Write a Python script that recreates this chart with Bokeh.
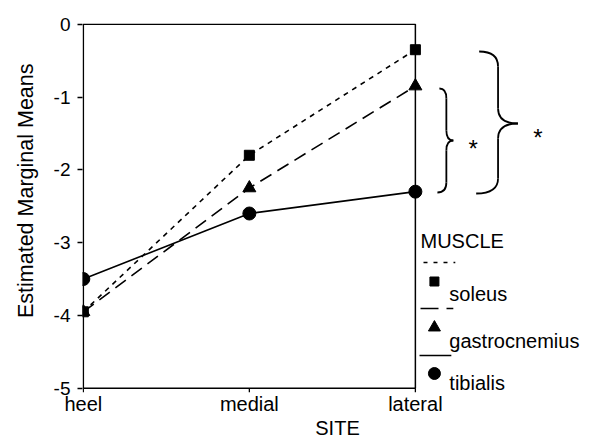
from bokeh.plotting import figure
from bokeh.models import Range1d, FixedTicker, Title
from bokeh.core.properties import value
from bokeh.embed import file_html
from bokeh.resources import INLINE

# ---------------- data ----------------
sites = ["heel", "medial", "lateral"]
site_pos = [0, 1, 2]
soleus = [-3.95, -1.8, -0.35]
gastrocnemius = [-3.95, -2.25, -0.85]
tibialis = [-3.5, -2.6, -2.3]
y_ticks = [0, -1, -2, -3, -4, -5]
legend_title = "MUSCLE"
legend_names = ["soleus", "gastrocnemius", "tibialis"]
y_title = "Estimated Marginal Means"
x_title = "SITE"

FONT = "Liberation Sans"

# ---------------- layout ----------------
W, H = 592, 444
FL, FT = 79, 23            # frame left / top inside canvas
FB = 396                   # frame bottom (box bottom ~388)
FW, FH = W - FL, FB - FT
PX_X = 167.0               # pixels per x unit
PX_Y = 72.8                # pixels per y unit
X0 = -0.005
Y1 = 0.01
Y0 = Y1 - FH / PX_Y

def dx(px):   # canvas px -> data x
    return (px - FL) / PX_X + X0

def dy(py):   # canvas px -> data y
    return Y1 - (py - FT) / PX_Y

p = figure(width=W, height=H, output_backend="svg", toolbar_location=None,
           x_range=Range1d(X0, X0 + FW / PX_X), y_range=Range1d(Y0, Y1),
           min_border_left=FL, min_border_right=0, min_border_top=FT,
           min_border_bottom=H - FB)
p.background_fill_color = "white"
p.border_fill_color = "white"
p.outline_line_color = None
p.xgrid.visible = False
p.ygrid.visible = False

# axes
p.xaxis.ticker = FixedTicker(ticks=site_pos)
p.xaxis.major_label_overrides = {i: s for i, s in zip(site_pos, sites)}
p.yaxis.ticker = FixedTicker(ticks=y_ticks)
p.yaxis.major_label_overrides = {t: str(t) for t in y_ticks}
for ax in (p.xaxis[0], p.yaxis[0]):
    ax.axis_line_color = None
    ax.minor_tick_line_color = None
    ax.major_tick_in = 0
    ax.major_tick_line_color = "black"
    ax.major_tick_line_width = 1.3
    ax.major_label_text_font = FONT
    ax.major_label_text_color = "black"
    ax.axis_label_text_font = FONT
    ax.axis_label_text_font_style = "normal"
    ax.axis_label_text_color = "black"
p.xaxis.major_tick_out = 0
p.xaxis.major_tick_line_color = None
p.xaxis.major_label_standoff = -4
p.xaxis.major_label_text_font_size = "20px"
p.xaxis.axis_label = x_title
p.xaxis.axis_label_text_font_size = "20px"
p.xaxis.axis_label_standoff = -1
p.yaxis.major_tick_out = 5
p.yaxis.major_label_standoff = 7
p.yaxis.major_label_text_font_size = "19px"

# y title on the left, its top end placed near the reference position
p.add_layout(Title(text=y_title, align="right", offset=40, vertical_align="middle",
                   standoff=24, text_font=FONT, text_font_size="21.5px",
                   text_font_style="normal", text_color="black"), "left")

# plot box
p.line([0, 0, 2, 2, 0], [-5, 0, 0, -5, -5], line_color="black", line_width=1.5)
# x ticks below the box
p.segment(x0=site_pos, y0=[-5] * 3, x1=site_pos, y1=[dy(387.7 + 4)] * 3,
          line_color="black", line_width=1.3)

# series
p.line(site_pos, soleus, line_color="black", line_width=1.6, line_dash="5 5")
p.line(site_pos, gastrocnemius, line_color="black", line_width=1.6, line_dash="13 7")
p.line(site_pos, tibialis, line_color="black", line_width=1.6)
p.scatter(site_pos, soleus, marker="square", size=10, color="black")
p.scatter(site_pos, gastrocnemius, marker="triangle", size=13, color="black")
p.scatter(site_pos, tibialis, marker="circle", size=13, color="black")

# legend (manual)
p.text([dx(419)], [dy(240)], text=[legend_title], text_font=value(FONT),
       text_font_size="20px", text_baseline="middle", text_align="left", text_color="black")
p.line([dx(422), dx(454)], [dy(262)] * 2, line_color="black", line_width=1.5, line_dash="4 6")
p.line([dx(419), dx(452)], [dy(308)] * 2, line_color="black", line_width=1.5, line_dash="18 8")
p.line([dx(418), dx(450)], [dy(355)] * 2, line_color="black", line_width=1.5)
p.scatter([dx(433)], [dy(281)], marker="square", size=9, color="black")
p.scatter([dx(433)], [dy(327)], marker="triangle", size=12, color="black")
p.scatter([dx(433)], [dy(373)], marker="circle", size=12, color="black")
p.text([dx(448)] * 3, [dy(293), dy(340), dy(382)], text=legend_names, text_font=value(FONT),
       text_font_size="20px", text_baseline="middle", text_align="left", text_color="black")

# braces
def brace(x_end_top, y_top, x_mid, x_tip, y_tip, x_end_bot, y_bot, r):
    qx0 = [x_end_top, x_mid, x_tip, x_mid]
    qy0 = [y_top, y_tip - r, y_tip, y_bot - r]
    qx1 = [x_mid, x_tip, x_mid, x_end_bot]
    qy1 = [y_top + r, y_tip, y_tip + r, y_bot]
    qcx = [x_mid, x_mid, x_mid, x_mid]
    qcy = [y_top, y_tip, y_tip, y_bot]
    p.quadratic(x0=[dx(v) for v in qx0], y0=[dy(v) for v in qy0],
                x1=[dx(v) for v in qx1], y1=[dy(v) for v in qy1],
                cx=[dx(v) for v in qcx], cy=[dy(v) for v in qcy],
                line_color="black", line_width=1.8)
    p.segment(x0=[dx(x_mid)] * 2, y0=[dy(y_top + r), dy(y_tip + r)],
              x1=[dx(x_mid)] * 2, y1=[dy(y_tip - r), dy(y_bot - r)],
              line_color="black", line_width=1.8)

brace(438, 88, 445, 452, 140, 436, 192, 10)
brace(478, 51, 497, 517, 123, 475, 193, 15)

p.text([dx(472), dx(537)], [dy(148), dy(137)], text=["*", "*"], text_font=value(FONT),
       text_font_size="24px", text_baseline="middle", text_align="center", text_color="black")

open("out.html", "w").write(file_html(p, INLINE))
